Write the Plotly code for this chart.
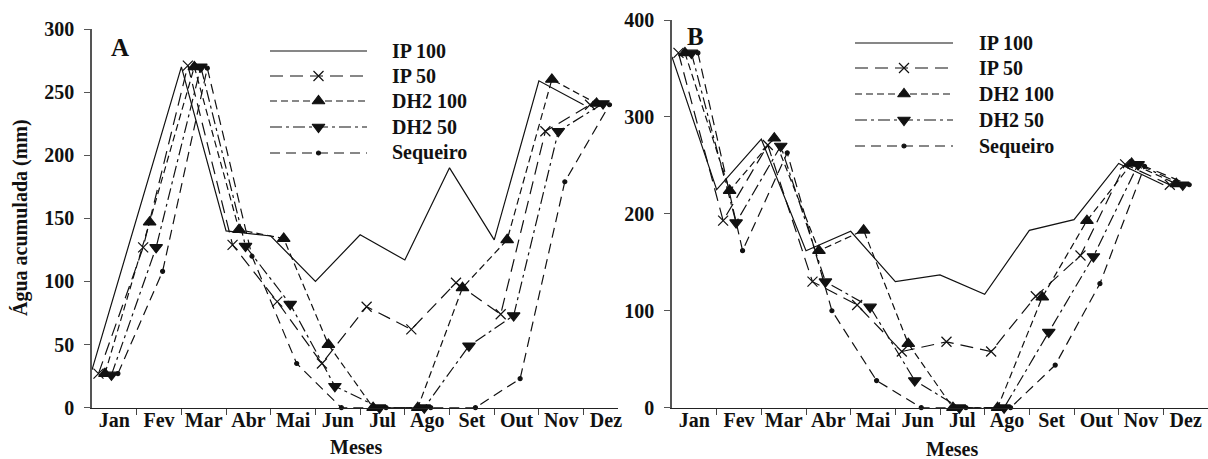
import plotly.graph_objects as go

W, H = 1208, 459

# ---- data -------------------------------------------------------------
months = ["Jan", "Fev", "Mar", "Abr", "Mai", "Jun", "Jul", "Ago", "Set", "Out", "Nov", "Dez"]
series_names = ["IP 100", "IP 50", "DH2 100", "DH2 50", "Sequeiro"]

# Panel A (mm)
ip100_a = [30, 150, 270, 140, 136, 100, 137, 117, 190, 133, 259, 240]
ip50_a = [27, 127, 271, 129, 84, 35, 80, 62, 99, 74, 219, 240]
dh2_100_a = [27, 147, 270, 141, 134, 50, 0, 0, 95, 133, 260, 241]
dh2_50_a = [26, 127, 270, 128, 82, 17, 0, 0, 49, 73, 219, 241]
sequeiro_a = [27, 108, 269, 120, 35, 0, 0, 0, 0, 23, 179, 240]

# Panel B (mm)
ip100_b = [362, 225, 277, 162, 182, 130, 137, 117, 183, 194, 252, 230]
ip50_b = [366, 193, 271, 130, 106, 58, 68, 58, 115, 157, 251, 230]
dh2_100_b = [366, 224, 278, 162, 183, 66, 0, 0, 114, 193, 252, 231]
dh2_50_b = [366, 191, 270, 130, 104, 28, 0, 0, 78, 156, 251, 230]
sequeiro_b = [366, 162, 263, 100, 28, 0, 0, 0, 44, 128, 249, 230]

y_ticks_a = [0, 50, 100, 150, 200, 250, 300]
y_ticks_b = [0, 100, 200, 300, 400]

# ---- styling ----------------------------------------------------------
FONT = "Liberation Serif, Times New Roman, serif"
BLACK = "#111111"
LW = 1.2
offsets = [0.0, 0.145, 0.29, 0.435, 0.58]   # horizontal shift of each series inside a month
styles = [
    dict(dash="solid", symbol=None, size=0),
    dict(dash="13px,7px", symbol="x-thin-open", size=10),
    dict(dash="7px,4px", symbol="triangle-up", size=11),
    dict(dash="12px,4px,3px,4px", symbol="triangle-down", size=11),
    dict(dash="10px,6px", symbol="circle", size=4),
]


def px_x(p):
    return p / W


def px_y(p):
    return 1 - p / H


fig = go.Figure()

panels = [
    ("x", "y", [ip100_a, ip50_a, dh2_100_a, dh2_50_a, sequeiro_a]),
    ("x2", "y2", [ip100_b, ip50_b, dh2_100_b, dh2_50_b, sequeiro_b]),
]

for xa, ya, data in panels:
    for name, vals, off, st in zip(series_names, data, offsets, styles):
        xs = [i + off for i in range(len(months))]
        mode = "lines" if st["symbol"] is None else "lines+markers"
        marker = None
        if st["symbol"] is not None:
            marker = dict(symbol=st["symbol"], size=st["size"], color=BLACK,
                          line=dict(color=BLACK, width=1.2))
        fig.add_trace(go.Scatter(
            x=xs, y=vals, mode=mode, name=name, xaxis=xa, yaxis=ya,
            line=dict(color=BLACK, width=LW, dash=st["dash"]),
            marker=marker, cliponaxis=False, showlegend=False,
        ))

# ---- hand-drawn legends (long line samples with marker in the middle) ----
legend_rows = [
    dict(x0=270, x1=367, text_x=390, rows=[51, 76, 101, 127, 153]),
    dict(x0=855, x1=953, text_x=977, rows=[43, 68, 94, 120, 146]),
]
for lg in legend_rows:
    for name, st, ry in zip(series_names, styles, lg["rows"]):
        fig.add_trace(go.Scatter(
            x=[lg["x0"], lg["x1"]], y=[ry, ry], mode="lines", xaxis="x3", yaxis="y3",
            line=dict(color=BLACK, width=LW, dash=st["dash"]), showlegend=False,
            hoverinfo="skip",
        ))
        if st["symbol"] is not None:
            fig.add_trace(go.Scatter(
                x=[(lg["x0"] + lg["x1"]) / 2], y=[ry], mode="markers", xaxis="x3", yaxis="y3",
                marker=dict(symbol=st["symbol"], size=st["size"], color=BLACK,
                            line=dict(color=BLACK, width=1.2)),
                showlegend=False, hoverinfo="skip",
            ))
        fig.add_annotation(x=px_x(lg["text_x"]), y=px_y(ry), xref="paper", yref="paper",
                           text=name, showarrow=False, xanchor="left", yanchor="middle",
                           font=dict(family=FONT, size=20, color=BLACK, weight="bold"))

tick_font = dict(family=FONT, size=20, color=BLACK, weight="bold")
month_centres = [i + 0.5 for i in range(len(months))]
boundaries = list(range(1, len(months)))


def x_axis(domain, rng, anchor):
    return dict(
        domain=domain, range=rng, anchor=anchor, showgrid=False, zeroline=False,
        showline=True, linecolor="#222222", linewidth=1.3,
        tickmode="array", tickvals=month_centres, ticktext=months,
        ticks="", tickfont=tick_font, automargin=False, ticklabelstandoff=-6,
        minor=dict(tickmode="array", tickvals=boundaries, ticks="outside",
                   ticklen=6, tickcolor="#444444", tickwidth=1),
    )


def y_axis(domain, rng, ticks, anchor):
    return dict(
        domain=domain, range=rng, anchor=anchor, showgrid=False, zeroline=False,
        showline=True, linecolor="#555555", linewidth=1.5,
        tickmode="array", tickvals=ticks, ticks="outside", ticklen=6,
        tickcolor="#555555", tickwidth=1.3, tickfont=tick_font, automargin=False,
        ticklabelstandoff=6,
    )


y0 = px_y(407.7)
fig.update_layout(
    width=W, height=H,
    margin=dict(l=0, r=0, t=0, b=0),
    paper_bgcolor="white", plot_bgcolor="rgba(0,0,0,0)",
    showlegend=False,
    xaxis=x_axis([px_x(92), px_x(618)], [0, 11.77], "y"),
    yaxis=y_axis([y0, px_y(29)], [0, 300], y_ticks_a, "x"),
    xaxis2=x_axis([px_x(672), 1.0], [0, 12], "y2"),
    yaxis2=y_axis([y0, px_y(20)], [0, 400], y_ticks_b, "x2"),
    xaxis3=dict(domain=[0, 1], range=[0, W], visible=False, anchor="y3"),
    yaxis3=dict(domain=[0, 1], range=[H, 0], visible=False, anchor="x3"),
)

big = dict(family=FONT, size=25, color=BLACK, weight="bold")
title_font = dict(family=FONT, size=20, color=BLACK, weight="bold")


def label(px, py, text, font, angle=0):
    fig.add_annotation(x=px_x(px), y=px_y(py), xref="paper", yref="paper", text=text,
                       showarrow=False, font=font, xanchor="center", yanchor="middle",
                       textangle=angle)


label(120, 47, "A", big)
label(696, 37, "B", big)
label(356, 447, "Meses", title_font)
label(952, 449, "Meses", title_font)
label(21, 218, "Água acumulada (mm)", title_font, angle=-90)

fig.write_html("out.html")
